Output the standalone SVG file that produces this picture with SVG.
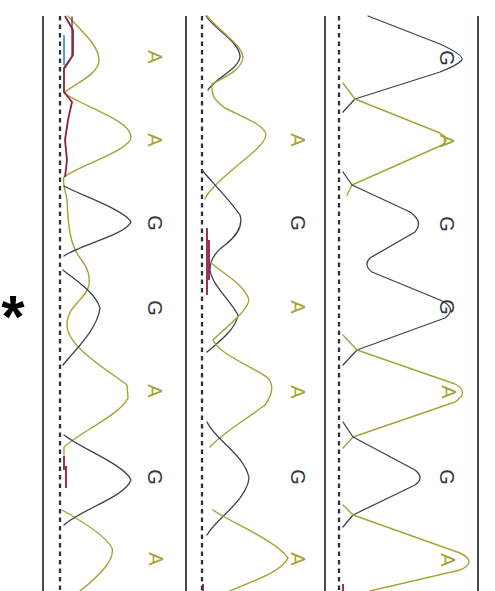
<svg xmlns="http://www.w3.org/2000/svg" width="495" height="591" viewBox="0 0 495 591">
<style>
.frame{stroke:#434b58;stroke-width:2;fill:none}
.base{stroke:#2c3340;stroke-width:2.3;stroke-dasharray:4.5 4;fill:none}
.a{stroke:#a6a336;stroke-width:1.4;fill:none;stroke-linejoin:round;stroke-linecap:round}
.g{stroke:#3a4252;stroke-width:1.3;fill:none;stroke-linejoin:round;stroke-linecap:round}
.r{stroke:#8c1f45;stroke-width:1.8;fill:none}
.b{stroke:#4a8ee0;stroke-width:1.8;fill:none}
.la{fill:#a6a336;font-family:"Liberation Sans",Arial,sans-serif;font-size:20px}
.lg{fill:#2f3744;font-family:"Liberation Sans",Arial,sans-serif;font-size:20px}
</style>
<rect width="495" height="591" fill="#ffffff"/>
<g id="frames">
<line class="frame" x1="43" y1="16" x2="43" y2="591"/>
<line class="frame" x1="186" y1="16" x2="186" y2="591"/>
<line class="frame" x1="325" y1="16" x2="325" y2="591"/>
<line class="frame" x1="478" y1="16" x2="478" y2="591"/>
<line class="base" x1="60" y1="16" x2="60" y2="591"/>
<line class="base" x1="202" y1="16" x2="202" y2="591"/>
<line class="base" x1="339" y1="16" x2="339" y2="591"/>
</g>
<g id="trace1">
<path class="a" d="M68 16 C80 30 99 45 99 60 C99 75 72 85 64 93 C80 105 131 120 131 137 C131 150 80 165 64 177 C62 185 66 192 67 200 C68 225 70 245 80 258 C88 268 90 275 89 285 C86 300 67 305 67 325 C67 345 100 365 127 385 L128 398 C120 415 80 432 64 447 L64 455"/>
<path class="a" d="M62 510 C80 520 105 535 112 548 C115 560 100 575 80 591"/>
<path class="g" d="M64 186 C80 195 125 210 131 222 C125 235 80 245 64 256"/>
<path class="g" d="M63 270 C75 280 95 292 100 308 C97 330 75 350 63 365"/>
<path class="g" d="M64 435 C80 448 125 465 131 480 C125 497 80 510 64 525"/>
<path class="g" d="M72 17 L72 57 L65 68"/>
<path class="r" d="M65 16 L73 30 L73 55 L64 68 L64 92 L72 102 L68 120 L65 140 L67 160 L65 177"/>
<path class="b" d="M64 35 L64 65"/>
<path class="r" d="M64 456 L64 470 M66 466 L66 488"/>
</g>
<g id="trace2">
<path class="g" d="M206 16 C215 30 240 42 240 57 C238 70 215 78 208 90"/>
<path class="a" d="M207 16 C218 30 243 45 243 58 C241 72 218 80 212 84 C211 95 214 100 225 108 C245 118 266 126 266 135 C264 150 225 170 207 195 L205 199"/>
<path class="g" d="M202 170 C208 178 230 200 240 215 C243 225 238 235 225 245 C215 252 210 260 210 270 C212 285 230 300 238 315 C236 330 215 345 207 352"/>
<path class="a" d="M210 262 C225 275 245 285 249 300 C247 312 225 328 213 340 C220 355 250 365 268 378 C274 385 272 395 265 405 C245 420 220 435 210 447"/>
<path class="g" d="M207 422 C215 440 245 455 249 478 C247 500 215 520 207 535"/>
<path class="a" d="M213 510 C230 522 275 540 288 558 C282 572 250 582 230 591"/>
<path class="r" d="M207 228 L207 295 M209 240 L209 280"/>
</g>
<g id="trace3">
<path class="g" d="M368 16 L440 44 Q464 55 462 60 Q458 65 440 72 L355 99 L343 112"/>
<path class="a" d="M343 83 L355 99 L440 133 Q452 140 440 146 L352 185 L347 195"/>
<path class="g" d="M343 172 L352 185 L410 212 Q424 222 415 232 L370 258 Q363 265 372 272 L440 300 Q458 308 445 318 L357 350 L343 365"/>
<path class="a" d="M343 335 L357 350 L455 384 Q470 392 455 402 L353 437 L343 448"/>
<path class="g" d="M343 422 L353 437 L415 470 Q425 478 415 485 L353 515 L343 527"/>
<path class="a" d="M343 505 L353 515 L460 553 Q478 562 460 570 L370 591"/>
<path class="r" d="M343 584 L343 591 M203 584 L203 591"/>
</g>
<g id="labels">
<text class="la" text-anchor="middle" dominant-baseline="central" transform="translate(155,57) rotate(90)">A</text>
<text class="la" text-anchor="middle" dominant-baseline="central" transform="translate(155,140) rotate(90)">A</text>
<text class="lg" text-anchor="middle" dominant-baseline="central" transform="translate(155,223) rotate(90)">G</text>
<text class="lg" text-anchor="middle" dominant-baseline="central" transform="translate(155,308) rotate(90)">G</text>
<text class="la" text-anchor="middle" dominant-baseline="central" transform="translate(155,391) rotate(90)">A</text>
<text class="lg" text-anchor="middle" dominant-baseline="central" transform="translate(155,477) rotate(90)">G</text>
<text class="la" text-anchor="middle" dominant-baseline="central" transform="translate(156,559) rotate(90)">A</text>
<text class="la" text-anchor="middle" dominant-baseline="central" transform="translate(298,140) rotate(90)">A</text>
<text class="lg" text-anchor="middle" dominant-baseline="central" transform="translate(298,223) rotate(90)">G</text>
<text class="la" text-anchor="middle" dominant-baseline="central" transform="translate(298,307) rotate(90)">A</text>
<text class="la" text-anchor="middle" dominant-baseline="central" transform="translate(298,392) rotate(90)">A</text>
<text class="lg" text-anchor="middle" dominant-baseline="central" transform="translate(298,477) rotate(90)">G</text>
<text class="la" text-anchor="middle" dominant-baseline="central" transform="translate(298,559) rotate(90)">A</text>
<text class="lg" text-anchor="middle" dominant-baseline="central" transform="translate(447,58) rotate(90)">G</text>
<text class="la" text-anchor="middle" dominant-baseline="central" transform="translate(447,141) rotate(90)">A</text>
<text class="lg" text-anchor="middle" dominant-baseline="central" transform="translate(447,224) rotate(90)">G</text>
<text class="lg" text-anchor="middle" dominant-baseline="central" transform="translate(447,307) rotate(90)">G</text>
<text class="la" text-anchor="middle" dominant-baseline="central" transform="translate(449,392) rotate(90)">A</text>
<text class="lg" text-anchor="middle" dominant-baseline="central" transform="translate(447,477) rotate(90)">G</text>
<text class="la" text-anchor="middle" dominant-baseline="central" transform="translate(448,560) rotate(90)">A</text>
<text x="13" y="337" text-anchor="middle" font-family="Liberation Sans,Arial,sans-serif" font-size="60" font-weight="bold" fill="#000">*</text>
</g>
</svg>
